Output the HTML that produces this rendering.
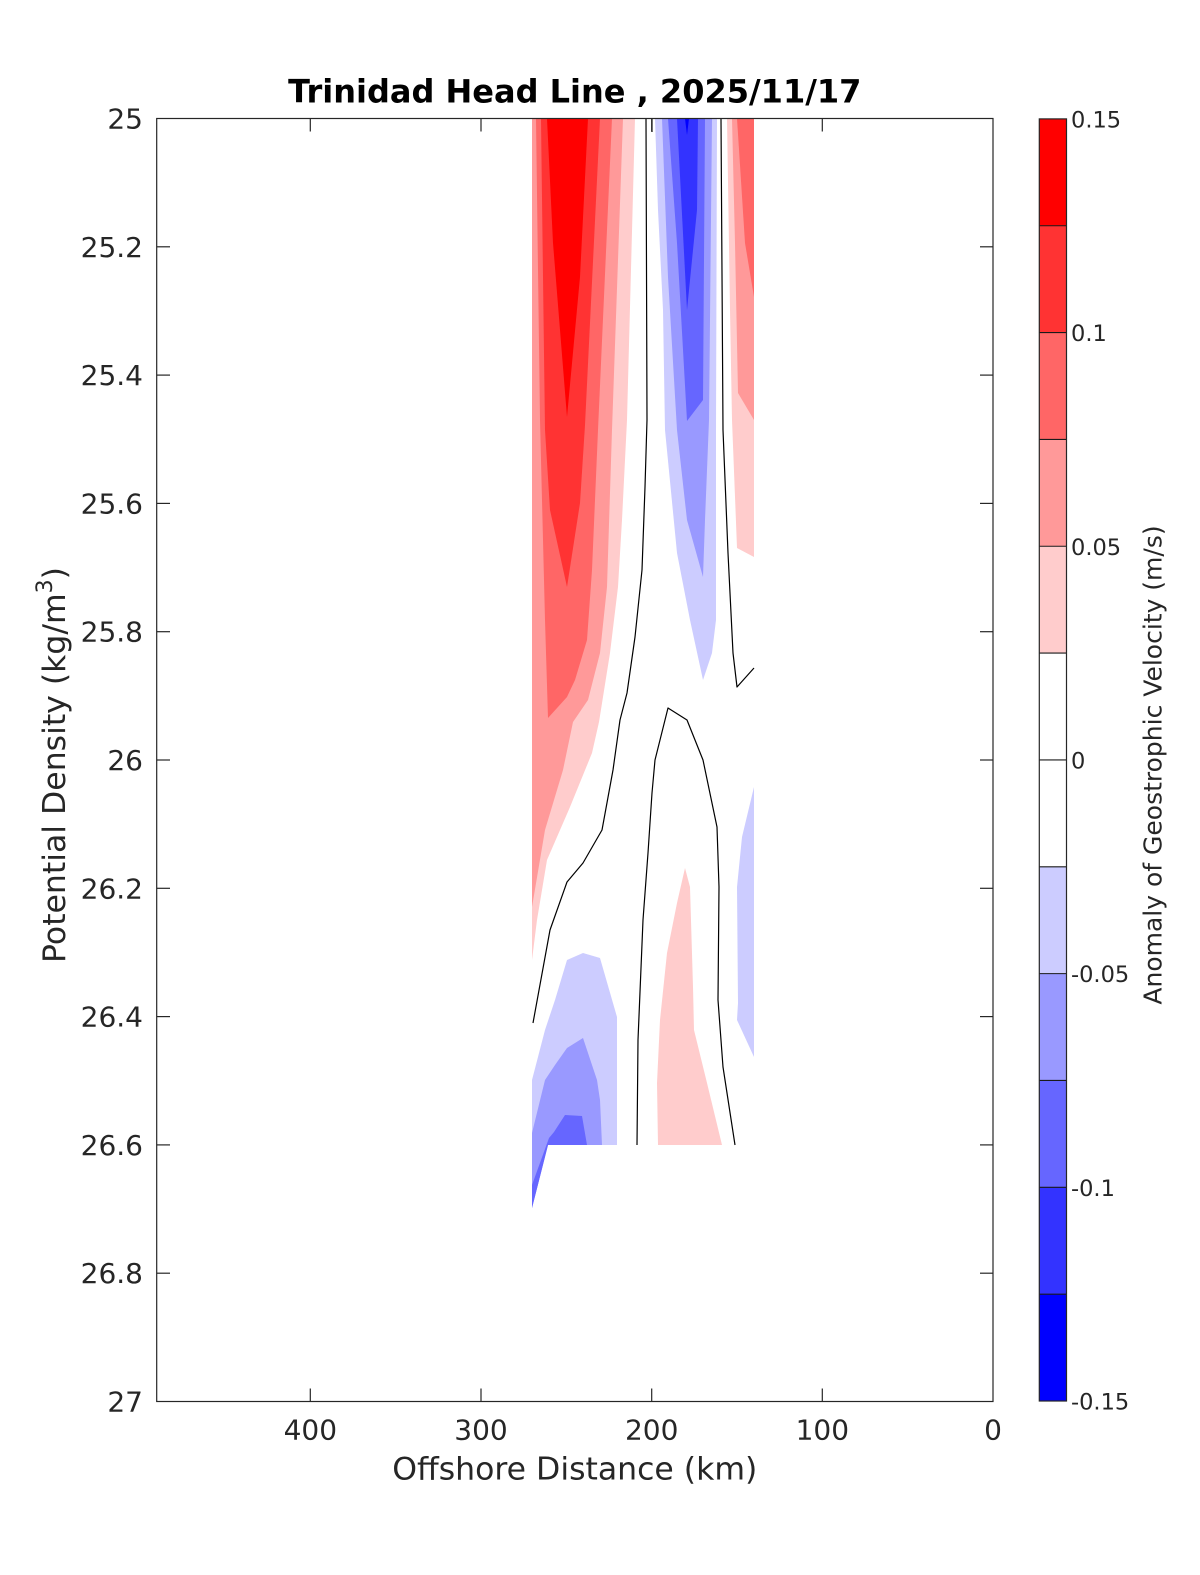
<!DOCTYPE html>
<html>
<head>
<meta charset="utf-8">
<style>
  html,body{margin:0;padding:0;background:#fff;}
  svg{display:block;}
  text{font-family:"DejaVu Sans","Liberation Sans",sans-serif;fill:#262626;}
</style>
</head>
<body>
<svg width="1200" height="1575" viewBox="0 0 1200 1575" xmlns="http://www.w3.org/2000/svg">
  <rect x="0" y="0" width="1200" height="1575" fill="#ffffff"/>

  <!-- Left red structure -->
  <polygon fill="#ffcccc" points="532,118.5 635,118.5 627,420 622,520 618,587 610,653 599,722 592,753 570,807 547,860 537,920 532,960"/>
  <polygon fill="#ff9999" points="532,118.5 623,118.5 612,430 607,587 600,653 588,700 573,722 563,770 545,830 532,907"/>
  <polygon fill="#ff6666" points="536,118.5 612,118.5 598,430 592,570 587,640 575,680 567,697 548,718 545,620 540,420"/>
  <polygon fill="#ff3333" points="541,118.5 600,118.5 585,425 580,503 567,587 550,510 545,430 543,277"/>
  <polygon fill="#ff0000" points="547,118.5 588,118.5 580,277 567,417 553,243"/>

  <!-- Upper center blue -->
  <polygon fill="#ccccff" points="655,118.5 717,118.5 716,430 716,620 712,653 703,680 690,620 677,553 665,430 663,310 658,210"/>
  <polygon fill="#9999ff" points="662,118.5 712,118.5 709,420 705,520 703,577 687,520 677,430 668,277"/>
  <polygon fill="#6666ff" points="668,118.5 705,118.5 703,400 687,421 677,243"/>
  <polygon fill="#3333ff" points="677,118.5 698,118.5 697,210 687,310"/>
  <polygon fill="#0000ff" points="685,118.5 689,118.5 687,135"/>

  <!-- Right red strip -->
  <polygon fill="#ffcccc" points="727,118.5 754,118.5 754,557 737,548 732,420 730,310"/>
  <polygon fill="#ff9999" points="732,118.5 754,118.5 754,420 738,393 735,243"/>
  <polygon fill="#ff6666" points="737,118.5 754,118.5 754,297 745,243"/>

  <!-- Right lower blue strip -->
  <polygon fill="#ccccff" points="754,787 742,837 737,887 738,1003 737,1020 754,1057"/>

  <!-- Center lower pink -->
  <polygon fill="#ffcccc" points="685,868 690,887 693,987 694,1030 707,1083 722,1145 658,1145 657,1083 660,1020 667,953 677,903"/>

  <!-- Lower-left blue -->
  <polygon fill="#ccccff" points="567,960 583,953 600,958 617,1017 617,1145 548,1145 532,1208 532,1080 545,1030 555,1000"/>
  <polygon fill="#9999ff" points="583,1038 597,1080 600,1100 602,1145 548,1145 532,1208 532,1133 545,1080 555,1065 567,1048"/>
  <polygon fill="#6666ff" points="565,1115 582,1116 587,1145 548,1145 532,1208 532,1185 549,1138 554,1132"/>

  <!-- Zero contours -->
  <g fill="none" stroke="#000000" stroke-width="1.2" stroke-linejoin="round">
    <polyline points="646,118.5 647,420 645,487 642,570 635,637 627,693 620,720 613,770 602,830 583,863 567,882 550,930 533,1023"/>
    <polyline points="652,118.5 652,132"/>
    <polyline points="721,118.5 723,430 728,553 733,653 737,687 754,668"/>
    <polyline points="637,1145 638,1040 643,920 648,853 652,793 655,760 660,740 668,708 687,720 695,740 703,760 717,827 719,887 718,1000 723,1067 735,1145"/>
  </g>

  <!-- Axes box -->
  <rect x="156.7" y="118.5" width="836.3" height="1283" fill="none" stroke="#262626" stroke-width="1.2"/>

  <!-- Y ticks -->
  <g stroke="#262626" stroke-width="1.2">
    <line x1="156.7" y1="246.8" x2="170" y2="246.8"/><line x1="993" y1="246.8" x2="980" y2="246.8"/>
    <line x1="156.7" y1="375.1" x2="170" y2="375.1"/><line x1="993" y1="375.1" x2="980" y2="375.1"/>
    <line x1="156.7" y1="503.4" x2="170" y2="503.4"/><line x1="993" y1="503.4" x2="980" y2="503.4"/>
    <line x1="156.7" y1="631.7" x2="170" y2="631.7"/><line x1="993" y1="631.7" x2="980" y2="631.7"/>
    <line x1="156.7" y1="760" x2="170" y2="760"/><line x1="993" y1="760" x2="980" y2="760"/>
    <line x1="156.7" y1="888.3" x2="170" y2="888.3"/><line x1="993" y1="888.3" x2="980" y2="888.3"/>
    <line x1="156.7" y1="1016.6" x2="170" y2="1016.6"/><line x1="993" y1="1016.6" x2="980" y2="1016.6"/>
    <line x1="156.7" y1="1144.9" x2="170" y2="1144.9"/><line x1="993" y1="1144.9" x2="980" y2="1144.9"/>
    <line x1="156.7" y1="1273.2" x2="170" y2="1273.2"/><line x1="993" y1="1273.2" x2="980" y2="1273.2"/>
    <!-- X ticks -->
    <line x1="310.3" y1="1401.5" x2="310.3" y2="1388.5"/><line x1="310.3" y1="118.5" x2="310.3" y2="131.5"/>
    <line x1="481" y1="1401.5" x2="481" y2="1388.5"/><line x1="481" y1="118.5" x2="481" y2="131.5"/>
    <line x1="651.7" y1="1401.5" x2="651.7" y2="1388.5"/><line x1="651.7" y1="118.5" x2="651.7" y2="131.5"/>
    <line x1="822.3" y1="1401.5" x2="822.3" y2="1388.5"/><line x1="822.3" y1="118.5" x2="822.3" y2="131.5"/>
  </g>

  <!-- Y tick labels -->
  <g font-size="28" text-anchor="end">
    <text x="143" y="128.5">25</text>
    <text x="143" y="256.8">25.2</text>
    <text x="143" y="385.1">25.4</text>
    <text x="143" y="513.4">25.6</text>
    <text x="143" y="641.7">25.8</text>
    <text x="143" y="770">26</text>
    <text x="143" y="898.3">26.2</text>
    <text x="143" y="1026.6">26.4</text>
    <text x="143" y="1154.9">26.6</text>
    <text x="143" y="1283.2">26.8</text>
    <text x="143" y="1411.5">27</text>
  </g>

  <!-- X tick labels -->
  <g font-size="28" text-anchor="middle">
    <text x="310.3" y="1439.5">400</text>
    <text x="481" y="1439.5">300</text>
    <text x="651.7" y="1439.5">200</text>
    <text x="822.3" y="1439.5">100</text>
    <text x="993" y="1439.5">0</text>
  </g>

  <!-- Axis labels -->
  <text x="574.8" y="1479.5" font-size="31.5" text-anchor="middle">Offshore Distance (km)</text>
  <text transform="translate(65,765) rotate(-90)" font-size="31.5" text-anchor="middle">Potential Density (kg/m<tspan font-size="22" dy="-13">3</tspan><tspan dy="13">)</tspan></text>

  <!-- Title -->
  <text x="574.8" y="102.3" font-size="32" font-weight="bold" text-anchor="middle" style="fill:#000">Trinidad Head Line , 2025/11/17</text>

  <!-- Colorbar -->
  <g>
    <rect x="1039.3" y="118.9" width="27.2" height="106.84" fill="#ff0000"/>
    <rect x="1039.3" y="225.74" width="27.2" height="106.84" fill="#ff3333"/>
    <rect x="1039.3" y="332.58" width="27.2" height="106.84" fill="#ff6666"/>
    <rect x="1039.3" y="439.42" width="27.2" height="106.84" fill="#ff9999"/>
    <rect x="1039.3" y="546.26" width="27.2" height="106.84" fill="#ffcccc"/>
    <rect x="1039.3" y="653.1" width="27.2" height="213.68" fill="#ffffff"/>
    <rect x="1039.3" y="866.78" width="27.2" height="106.84" fill="#ccccff"/>
    <rect x="1039.3" y="973.62" width="27.2" height="106.84" fill="#9999ff"/>
    <rect x="1039.3" y="1080.46" width="27.2" height="106.84" fill="#6666ff"/>
    <rect x="1039.3" y="1187.3" width="27.2" height="106.84" fill="#3333ff"/>
    <rect x="1039.3" y="1294.14" width="27.2" height="106.86" fill="#0000ff"/>
    <g stroke="#1a1a1a" stroke-width="1.1">
      <line x1="1039.3" y1="225.74" x2="1066.5" y2="225.74"/>
      <line x1="1039.3" y1="332.58" x2="1066.5" y2="332.58"/>
      <line x1="1039.3" y1="439.42" x2="1066.5" y2="439.42"/>
      <line x1="1039.3" y1="546.26" x2="1066.5" y2="546.26"/>
      <line x1="1039.3" y1="653.1" x2="1066.5" y2="653.1"/>
      <line x1="1039.3" y1="759.94" x2="1066.5" y2="759.94"/>
      <line x1="1039.3" y1="866.78" x2="1066.5" y2="866.78"/>
      <line x1="1039.3" y1="973.62" x2="1066.5" y2="973.62"/>
      <line x1="1039.3" y1="1080.46" x2="1066.5" y2="1080.46"/>
      <line x1="1039.3" y1="1187.3" x2="1066.5" y2="1187.3"/>
      <line x1="1039.3" y1="1294.14" x2="1066.5" y2="1294.14"/>
    </g>
    <rect x="1039.3" y="118.9" width="27.2" height="1282.1" fill="none" stroke="#262626" stroke-width="1.2"/>
  </g>

  <!-- Colorbar tick labels -->
  <g font-size="22.5" text-anchor="start">
    <text x="1071" y="127.3">0.15</text>
    <text x="1071" y="341">0.1</text>
    <text x="1071" y="554.8">0.05</text>
    <text x="1071" y="768.4">0</text>
    <text x="1071" y="982.1">-0.05</text>
    <text x="1071" y="1195.8">-0.1</text>
    <text x="1071" y="1409.5">-0.15</text>
  </g>

  <!-- Colorbar label -->
  <text transform="translate(1161.7,765) rotate(-90)" font-size="25" text-anchor="middle">Anomaly of Geostrophic Velocity (m/s)</text>
</svg>
</body>
</html>
